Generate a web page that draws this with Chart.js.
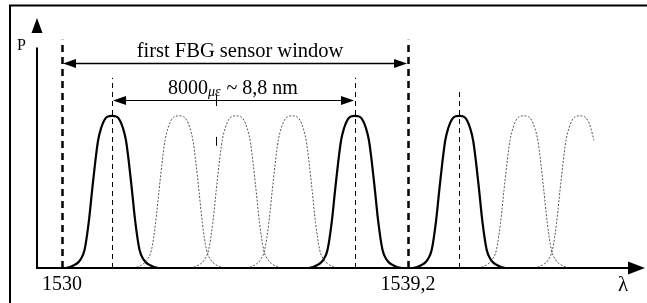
<!DOCTYPE html>
<html>
<head>
<meta charset="utf-8">
<script src="https://cdn.jsdelivr.net/npm/chart.js@4"></script>
<style>
  body { margin: 0; background: #fff; }
  canvas { display: block; }
</style>
</head>
<body>
<canvas id="fbg" width="647" height="303"></canvas>
<script>
// FBG sensor window sketch: reflection peaks vs wavelength

// wavelength (nm)
const tickValues = [1530, 1539.2];
const windowBounds = [1530, 1539.2];
const strainSpan = [1531.33, 1537.79];
const activeCenters = [1531.33, 1537.79, 1540.56];
const neighbourCenters = [1533.11, 1534.63, 1536.12, 1542.28, 1543.77];
// how far to the right of its centre each neighbour curve is drawn (nm)
const neighbourRightLimit = [1.22, 1.22, 1.22, 1.22, 0.4];

// half profile of one reflection peak: offset from centre (nm) -> relative power
const profileOffsets = [0, 0.12, 0.21, 0.29, 0.37, 0.45, 0.53, 0.62, 0.73, 0.84, 0.96, 1.1, 1.22];
const profileLevels = [1, 0.995, 0.97, 0.92, 0.84, 0.69, 0.51, 0.3, 0.12, 0.055, 0.025, 0.008, 0];

const SERIF = '"Liberation Serif", "Times New Roman", serif';

function peakPoints(center, rightLimit) {
  const pts = [];
  for (let i = profileOffsets.length - 1; i > 0; i--) {
    pts.push({ x: center - profileOffsets[i], y: profileLevels[i] });
  }
  for (let i = 0; i < profileOffsets.length; i++) {
    if (profileOffsets[i] <= rightLimit) {
      pts.push({ x: center + profileOffsets[i], y: profileLevels[i] });
    }
  }
  return pts;
}

const datasets = [];
neighbourCenters.forEach((c, i) => {
  datasets.push({
    data: peakPoints(c, neighbourRightLimit[i]),
    borderColor: "#555",
    borderWidth: 1,
    borderDash: [2, 1.6],
  });
});
activeCenters.forEach((c) => {
  datasets.push({
    data: peakPoints(c, 99),
    borderColor: "#000",
    borderWidth: 2.2,
  });
});

function arrowHead(ctx, x, y, dir, len, half) {
  ctx.beginPath();
  ctx.moveTo(x, y);
  ctx.lineTo(x - dir * len, y - half);
  ctx.lineTo(x - dir * len, y + half);
  ctx.closePath();
  ctx.fill();
}

function vDash(ctx, x, y1, y2, width, dash) {
  ctx.save();
  ctx.lineWidth = width;
  ctx.setLineDash(dash);
  ctx.beginPath();
  ctx.moveTo(x, y2);
  ctx.lineTo(x, y1);
  ctx.stroke();
  ctx.restore();
}

const sketchPlugin = {
  id: "sketch",
  afterDatasetsDraw(chart) {
    const { ctx, chartArea } = chart;
    const xs = chart.scales.x;
    const ys = chart.scales.y;
    const base = ys.getPixelForValue(0);
    const left = chartArea.left;

    ctx.save();
    ctx.strokeStyle = "#000";
    ctx.fillStyle = "#000";

    // outer frame (top and left edges only visible)
    ctx.lineWidth = 2;
    ctx.beginPath();
    ctx.moveTo(10, 303);
    ctx.lineTo(10, 5.5);
    ctx.lineTo(647, 5.5);
    ctx.stroke();

    // window limits (thick dashed)
    windowBounds.forEach((v) => {
      vDash(ctx, Math.round(xs.getPixelForValue(v)) + 0.5, ys.getPixelForValue(1.5), base, 2.5, [7, 5]);
    });
    // peak centres (thin dashed)
    const centreTop = [1.25, 1.25, 1.17];
    activeCenters.forEach((v, i) => {
      vDash(ctx, Math.round(xs.getPixelForValue(v)) + 0.5, ys.getPixelForValue(centreTop[i]), base, 1, [5, 4]);
    });

    // axes with arrows
    ctx.setLineDash([]);
    ctx.lineWidth = 2;
    ctx.beginPath();
    ctx.moveTo(left, ys.getPixelForValue(1.45));
    ctx.lineTo(left, base);
    ctx.lineTo(chartArea.right - 14, base);
    ctx.stroke();
    arrowHead(ctx, chartArea.right, base, 1, 17, 6.5);
    ctx.save();
    ctx.translate(left, chartArea.top - 2);
    ctx.rotate(-Math.PI / 2);
    arrowHead(ctx, 0, 0, 1, 15, 5.5);
    ctx.restore();

    // sensor window double arrow
    const wy = Math.round(ys.getPixelForValue(1.349)) + 0.5;
    const wx1 = xs.getPixelForValue(windowBounds[0]) + 1;
    const wx2 = xs.getPixelForValue(windowBounds[1]) - 1;
    ctx.lineWidth = 1.5;
    ctx.beginPath();
    ctx.moveTo(wx1 + 8, wy);
    ctx.lineTo(wx2 - 8, wy);
    ctx.stroke();
    arrowHead(ctx, wx1, wy, -1, 13, 4.5);
    arrowHead(ctx, wx2, wy, 1, 13, 4.5);

    // strain span double arrow
    const sy = Math.round(ys.getPixelForValue(1.105)) + 0.5;
    const sx1 = xs.getPixelForValue(strainSpan[0]) + 1;
    const sx2 = xs.getPixelForValue(strainSpan[1]) - 1;
    ctx.lineWidth = 1;
    ctx.beginPath();
    ctx.moveTo(sx1 + 8, sy);
    ctx.lineTo(sx2 - 8, sy);
    ctx.stroke();
    arrowHead(ctx, sx1, sy, -1, 13, 4.5);
    arrowHead(ctx, sx2, sy, 1, 13, 4.5);

    // little tick marks under the span label
    const tx = Math.round(xs.getPixelForValue(1534.09)) + 0.5;
    ctx.beginPath();
    ctx.moveTo(tx, ys.getPixelForValue(1.14));
    ctx.lineTo(tx, ys.getPixelForValue(1.065));
    ctx.moveTo(tx, ys.getPixelForValue(0.862));
    ctx.lineTo(tx, ys.getPixelForValue(0.803));
    ctx.stroke();

    // texts
    ctx.textBaseline = "alphabetic";
    ctx.textAlign = "center";
    ctx.font = "20.5px " + SERIF;
    ctx.fillText("first FBG sensor window", (wx1 + wx2) / 2 + 5, wy - 7);

    ctx.textAlign = "left";
    let x = 168;
    const ty = sy - 7;
    ctx.font = "20px " + SERIF;
    ctx.fillText("8000", x, ty);
    x += ctx.measureText("8000").width;
    ctx.font = "italic 14px " + SERIF;
    ctx.fillText("\u03bc\u03b5", x, ty + 2);
    x += ctx.measureText("\u03bc\u03b5").width;
    ctx.font = "20px " + SERIF;
    ctx.fillText(" ~ 8,8 nm", x + 1, ty);

    ctx.font = "16px " + SERIF;
    ctx.fillText("P", 17, 50);
    ctx.font = "21px " + SERIF;
    ctx.fillText("\u03bb", 618, 291);

    ctx.restore();
  },
};

new Chart(document.getElementById("fbg"), {
  type: "line",
  data: { datasets },
  options: {
    responsive: false,
    animation: false,
    events: [],
    layout: { padding: { left: 37, right: 2, top: 20, bottom: 0 } },
    elements: {
      point: { radius: 0 },
      line: { cubicInterpolationMode: "monotone", fill: false },
    },
    plugins: { legend: { display: false }, tooltip: { enabled: false } },
    scales: {
      x: {
        type: "linear",
        min: 1529.335,
        max: 1545.5,
        afterBuildTicks: (scale) => {
          scale.ticks = tickValues.map((v) => ({ value: v }));
        },
        afterFit: (scale) => {
          scale.height = 35;
        },
        grid: { display: false, drawTicks: false },
        border: { display: false },
        ticks: {
          padding: 5,
          color: "#000",
          font: { family: SERIF, size: 20 },
          maxRotation: 0,
          callback: (v) => String(v).replace(".", ","),
        },
      },
      y: { display: false, min: 0, max: 1.63 },
    },
  },
  plugins: [sketchPlugin],
});
</script>
</body>
</html>
